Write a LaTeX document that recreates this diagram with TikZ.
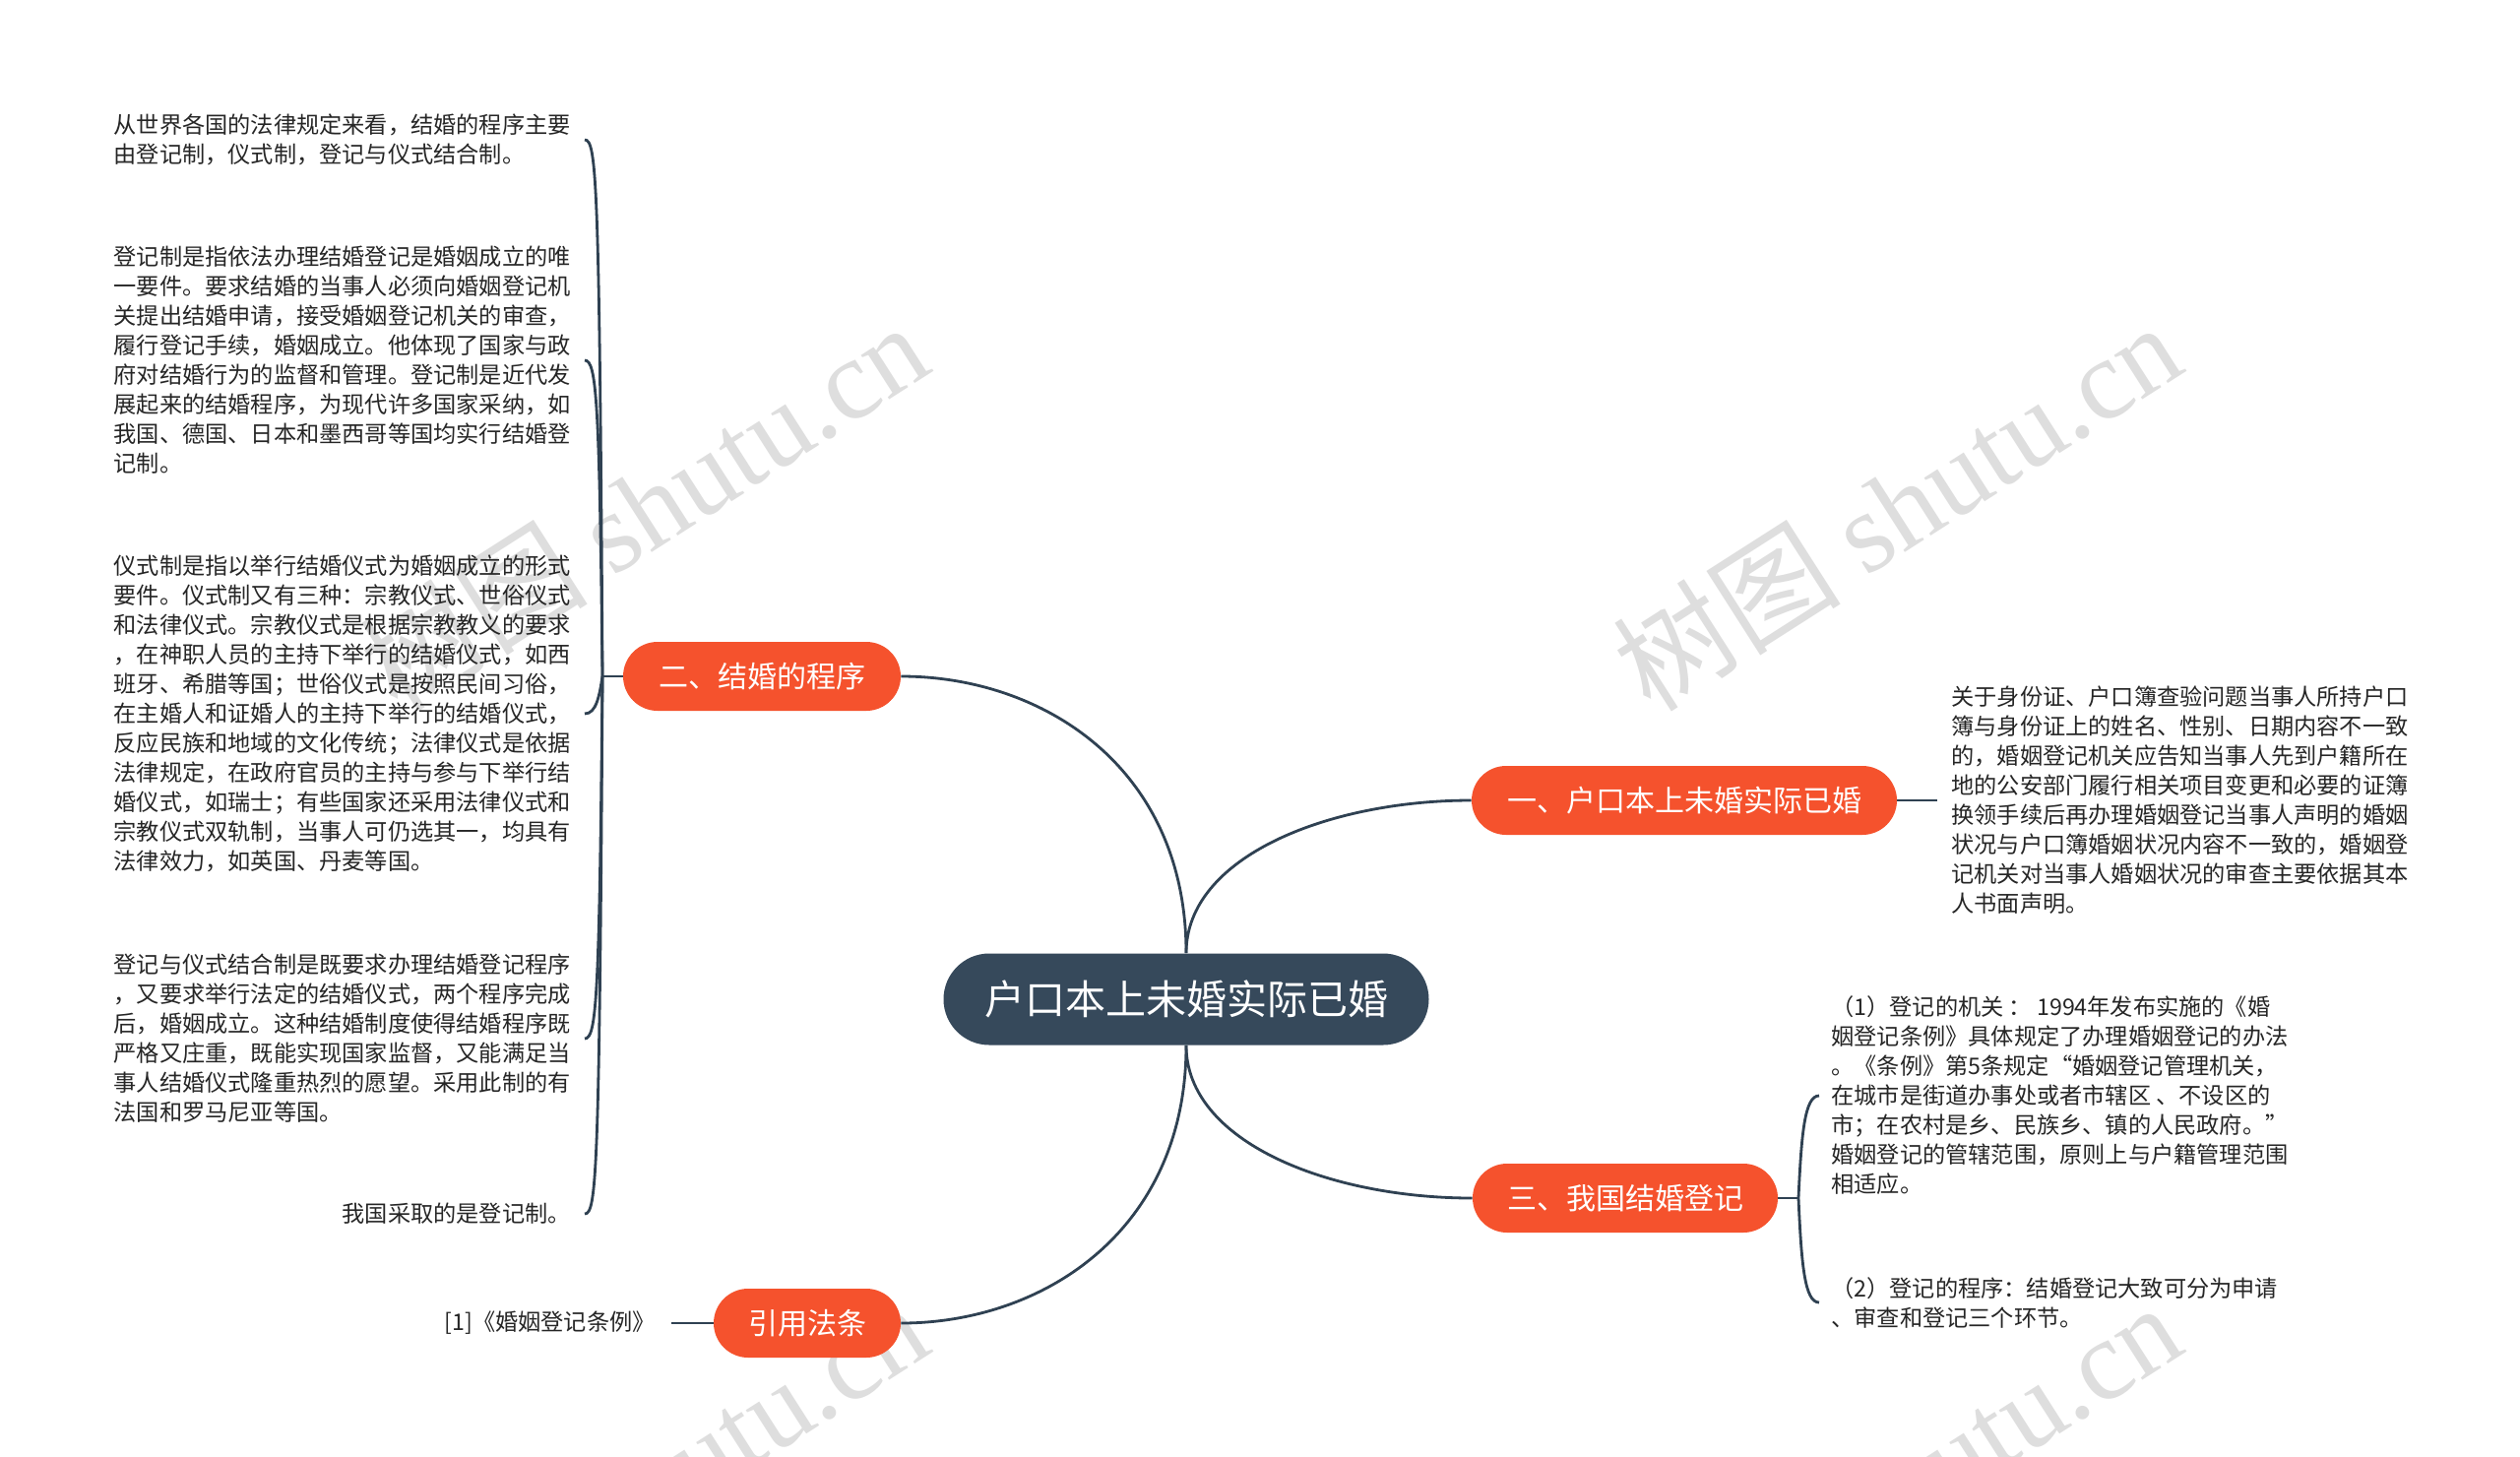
\documentclass[tikz,border=0pt]{standalone}
\usepackage{fontspec}
\setmainfont{Noto Sans CJK SC}
\newfontfamily\wmlatin{Liberation Serif}
\usetikzlibrary{shapes.misc}
\definecolor{orangeN}{HTML}{F5522D}
\definecolor{darkN}{HTML}{36495B}
\definecolor{lineC}{HTML}{2F4152}
\definecolor{txtC}{HTML}{262626}
\definecolor{wmC}{HTML}{DEDEDE}
\tikzset{
  conn/.style={draw=lineC, line width=1.4pt},
  topic/.style={rounded rectangle, fill=orangeN, text=white, minimum height=35pt, inner sep=0pt, font=\fontsize{15}{18}\selectfont},
  central/.style={rounded rectangle, fill=darkN, text=white, minimum height=46.5pt, minimum width=246.5pt, inner sep=0pt, font=\fontsize{20.5}{24}\selectfont},
  body/.style={inner ysep=0pt, inner xsep=7pt, align=left, text=txtC, font=\fontsize{11.6}{15}\selectfont},
  wmark/.style={text=wmC, rotate=32.6, inner sep=0pt, font=\fontsize{58}{60}\selectfont}
}
\begin{document}
\begin{tikzpicture}[x=0.5pt,y=-0.5pt]
\useasboundingbox (0,0) rectangle (2560,1479);
\fill[white] (0,0) rectangle (2560,1479);
\begin{scope}
\clip (0,0) rectangle (2560,1479);
\node[wmark] (wm1) at (654,514) {树图 {\wmlatin shutu.cn}};
\node[wmark] (wm2) at (1927,514) {树图 {\wmlatin shutu.cn}};
\node[wmark] (wm3) at (654,1510) {树图 {\wmlatin shutu.cn}};
\node[wmark] (wm4) at (1927,1510) {树图 {\wmlatin shutu.cn}};
\end{scope}

% central and main topics
\node[central] (main) at (1205,1015) {户口本上未婚实际已婚};
\node[topic, minimum width=141pt] (b2) at (774,687) {二、结婚的程序};
\node[topic, minimum width=216pt] (b1) at (1711,813) {一、户口本上未婚实际已婚};
\node[topic, minimum width=155pt] (b3) at (1651,1217) {三、我国结婚登记};
\node[topic, minimum width=95pt] (b4) at (820,1344) {引用法条};

% left texts (branch 二)
\node[body, anchor=east] (t21) at (594,142) {从世界各国的法律规定来看，结婚的程序主要\\由登记制，仪式制，登记与仪式结合制。};
\node[body, anchor=east] (t22) at (594,366) {登记制是指依法办理结婚登记是婚姻成立的唯\\一要件。要求结婚的当事人必须向婚姻登记机\\关提出结婚申请，接受婚姻登记机关的审查，\\履行登记手续，婚姻成立。他体现了国家与政\\府对结婚行为的监督和管理。登记制是近代发\\展起来的结婚程序，为现代许多国家采纳，如\\我国、德国、日本和墨西哥等国均实行结婚登\\记制。};
\node[body, anchor=east] (t23) at (594,725) {仪式制是指以举行结婚仪式为婚姻成立的形式\\要件。仪式制又有三种：宗教仪式、世俗仪式\\和法律仪式。宗教仪式是根据宗教教义的要求\\，在神职人员的主持下举行的结婚仪式，如西\\班牙、希腊等国；世俗仪式是按照民间习俗，\\在主婚人和证婚人的主持下举行的结婚仪式，\\反应民族和地域的文化传统；法律仪式是依据\\法律规定，在政府官员的主持与参与下举行结\\婚仪式，如瑞士；有些国家还采用法律仪式和\\宗教仪式双轨制，当事人可仍选其一，均具有\\法律效力，如英国、丹麦等国。};
\node[body, anchor=east] (t24) at (594,1055) {登记与仪式结合制是既要求办理结婚登记程序\\，又要求举行法定的结婚仪式，两个程序完成\\后，婚姻成立。这种结婚制度使得结婚程序既\\严格又庄重，既能实现国家监督，又能满足当\\事人结婚仪式隆重热烈的愿望。采用此制的有\\法国和罗马尼亚等国。};
\node[body, anchor=east] (t25) at (594,1233) {我国采取的是登记制。};

% right texts
\node[body, anchor=west] (t11) at (1968,813) {关于身份证、户口簿查验问题当事人所持户口\\簿与身份证上的姓名、性别、日期内容不一致\\的，婚姻登记机关应告知当事人先到户籍所在\\地的公安部门履行相关项目变更和必要的证簿\\换领手续后再办理婚姻登记当事人声明的婚姻\\状况与户口簿婚姻状况内容不一致的，婚姻登\\记机关对当事人婚姻状况的审查主要依据其本\\人书面声明。};
\node[body, anchor=west, inner xsep=6pt] (t31) at (1848,1113) {（1）登记的机关 ： 1994年发布实施的《婚\\姻登记条例》具体规定了办理婚姻登记的办法\\。《条例》第5条规定“婚姻登记管理机关，\\在城市是街道办事处或者市辖区 、不设区的\\市；在农村是乡、民族乡、镇的人民政府。”\\婚姻登记的管辖范围，原则上与户籍管理范围\\相适应。};
\node[body, anchor=west, inner xsep=6pt] (t32) at (1848,1323) {（2）登记的程序：结婚登记大致可分为申请\\、审查和登记三个环节。};

% citation
\node[body, anchor=east, inner xsep=8pt] (t41) at (682,1344) {[1]《婚姻登记条例》};

% central connectors
\draw[conn] (main.north) .. controls (1205,780) and (1060,687) .. (b2.east);
\draw[conn] (main.north) .. controls (1205,870) and (1350,813) .. (b1.west);
\draw[conn] (main.south) .. controls (1205,1160) and (1350,1217) .. (b3.west);
\draw[conn] (main.south) .. controls (1205,1250) and (1060,1344) .. (b4.east);

% branch 二 bracket
\coordinate (j2) at (612,687);
\draw[conn] (b2.west) -- (j2);
\draw[conn] (j2) .. controls (609,182) and (606,142) .. (t21.east);
\draw[conn] (j2) .. controls (609,406) and (606,366) .. (t22.east);
\draw[conn] (j2) .. controls (609,706) and (606,725) .. (t23.east);
\draw[conn] (j2) .. controls (609,1015) and (606,1055) .. (t24.east);
\draw[conn] (j2) .. controls (609,1193) and (606,1233) .. (t25.east);

% branch 一
\draw[conn] (b1.east) -- (t11.west);

% branch 三 bracket
\coordinate (j3) at (1827,1217);
\draw[conn] (b3.east) -- (j3);
\draw[conn] (j3) .. controls (1830,1153) and (1833,1113) .. (t31.west);
\draw[conn] (j3) .. controls (1830,1283) and (1833,1323) .. (t32.west);

% citation
\draw[conn] (t41.east) -- (b4.west);
\end{tikzpicture}
\end{document}
